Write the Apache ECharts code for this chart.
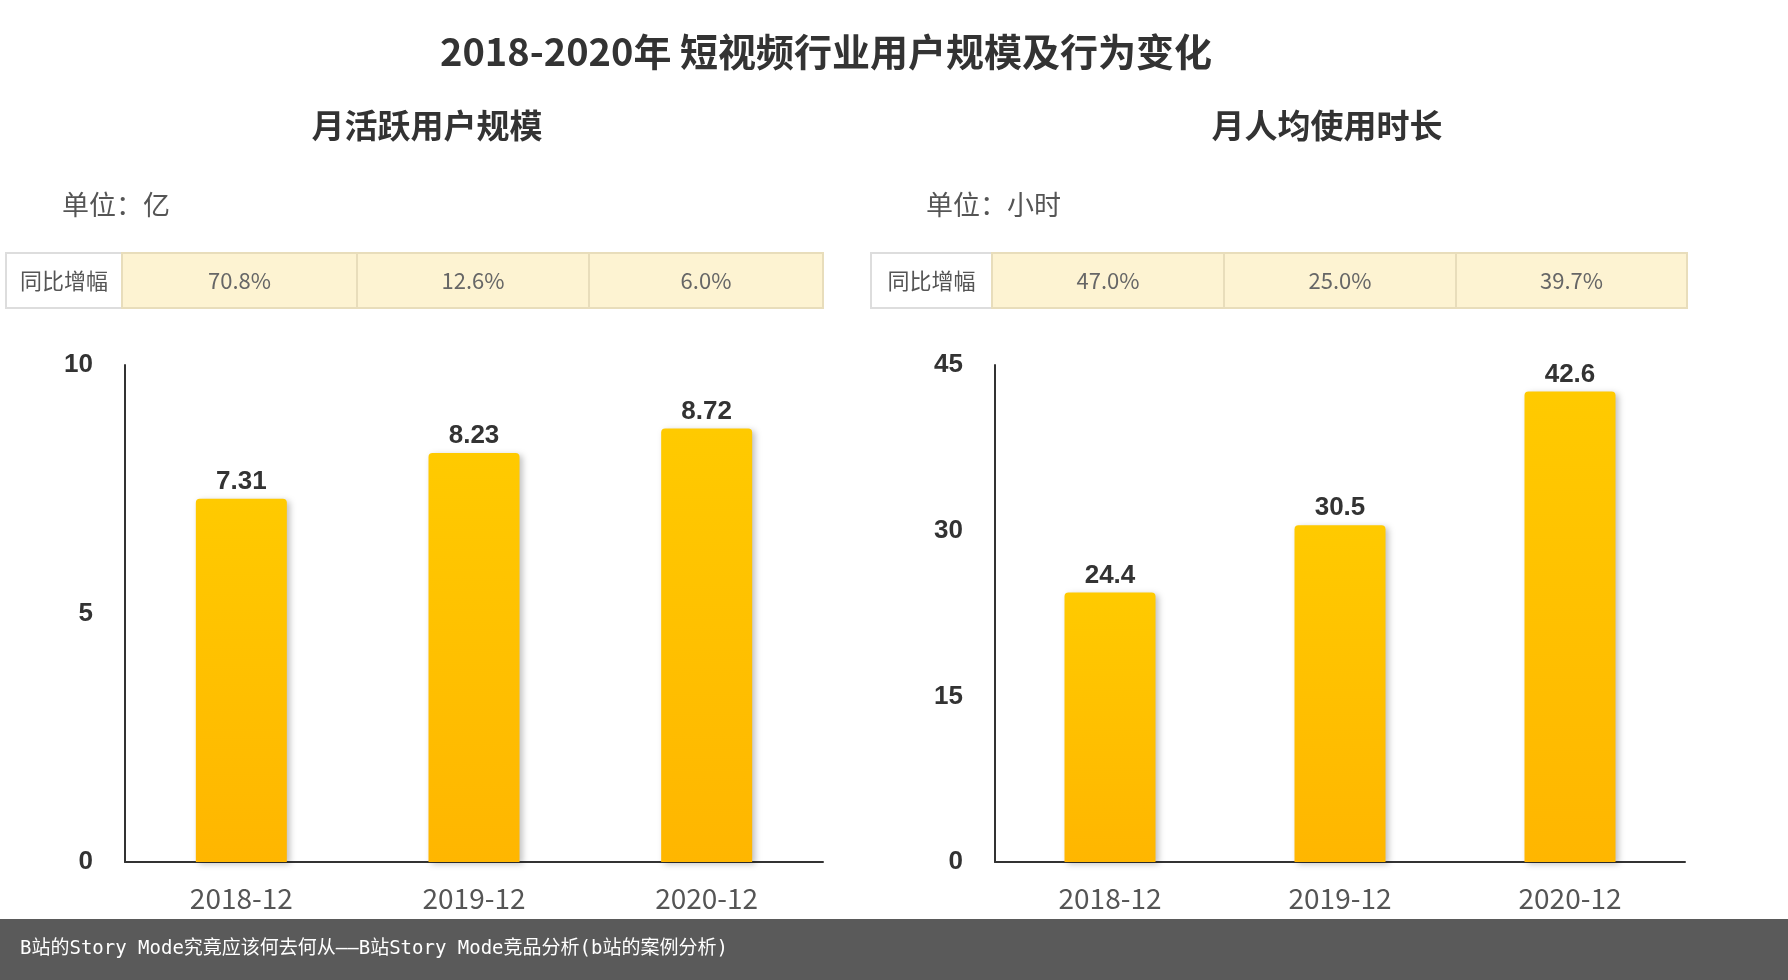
<!DOCTYPE html>
<html><head><meta charset="utf-8">
<script src="https://cdn.jsdelivr.net/npm/echarts@6/dist/echarts.min.js"></script>
<style>html,body{margin:0;padding:0;background:#fff}#c{width:1788px;height:980px}</style>
</head><body><div id="c"></div>
<script>
const categories = ['2018-12','2019-12','2020-12'];
const mauValues = [7.31, 8.23, 8.72];
const timeValues = [24.4, 30.5, 42.6];
const mauGrowth = ['70.8%','12.6%','6.0%'];
const timeGrowth = ['47.0%','25.0%','39.7%'];
const chart = echarts.init(document.getElementById('c'));
const F = '"Noto Sans CJK SC","Noto Sans",sans-serif';
const barColor = new echarts.graphic.LinearGradient(0,0,0,1,[{offset:0,color:'#FFCA00'},{offset:1,color:'#FFB600'}]);
function table(x0, edges, growth) {
  const els = [];
  els.push({type:'rect',shape:{x:x0,y:253,width:edges[0]-x0,height:55},style:{fill:'#fff',stroke:'#ddd',lineWidth:2}});
  els.push({type:'text',style:{x:(x0+edges[0])/2,y:281,text:'同比增幅',font:'22px '+F,fill:'#555',align:'center',verticalAlign:'middle'}});
  for (let i=0;i<3;i++){
    els.push({type:'rect',shape:{x:edges[i],y:253,width:edges[i+1]-edges[i],height:55},style:{fill:'#FDF3D2',stroke:'#E8DDBB',lineWidth:2}});
    els.push({type:'text',style:{x:(edges[i]+edges[i+1])/2,y:281,text:growth[i],font:'22px '+F,fill:'#666',align:'center',verticalAlign:'middle'}});
  }
  return els;
}
const axisCommon = {axisLine:{show:true,lineStyle:{color:'#333',width:2}},axisTick:{show:false},splitLine:{show:false}};
function series(idx, data){
  return {type:'bar',xAxisIndex:idx,yAxisIndex:idx,data:data,barWidth:91,
    itemStyle:{color:barColor,borderRadius:[4,4,0,0],shadowColor:'rgba(0,0,0,0.25)',shadowBlur:6,shadowOffsetX:3,shadowOffsetY:2},
    label:{show:true,position:'top',distance:4,fontSize:26,fontWeight:'bold',color:'#333',fontFamily:'"Liberation Sans",Arial,sans-serif'}};
}
const yLab = {fontSize:26,color:'#333',margin:32,fontWeight:'bold',fontFamily:'"Liberation Sans",Arial,sans-serif'};
chart.setOption({
  animation:false,
  title:[
    {text:'2018-2020年 短视频行业用户规模及行为变化',left:821,top:28,textAlign:'center',textStyle:{fontSize:38,fontWeight:'bold',color:'#333',fontFamily:F}},
    {text:'月活跃用户规模',left:422,top:104,textAlign:'center',textStyle:{fontSize:33,fontWeight:'bold',color:'#333',fontFamily:F}},
    {text:'月人均使用时长',left:1322,top:104,textAlign:'center',textStyle:{fontSize:33,fontWeight:'bold',color:'#333',fontFamily:F}},
    {text:'单位：亿',left:57,top:186,textStyle:{fontSize:27,fontWeight:'normal',color:'#555',fontFamily:F}},
    {text:'单位：小时',left:921,top:186,textStyle:{fontSize:27,fontWeight:'normal',color:'#555',fontFamily:F}}
  ],
  grid:[{left:125,right:965,top:365,height:497},{left:995,right:103,top:365,height:497}],
  xAxis:[0,1].map(i=>Object.assign({type:'category',gridIndex:i,data:categories,axisLabel:{fontSize:28,color:'#555',margin:22,fontFamily:F}},axisCommon)),
  yAxis:[
    Object.assign({type:'value',gridIndex:0,min:0,max:10,interval:5,axisLabel:yLab},axisCommon),
    Object.assign({type:'value',gridIndex:1,min:0,max:45,interval:15,axisLabel:yLab},axisCommon)
  ],
  series:[series(0,mauValues),series(1,timeValues)],
  graphic:[
    ...table(6,[122,357,589,823],mauGrowth),
    ...table(871,[992,1224,1456,1687],timeGrowth),
    {type:'rect',shape:{x:0,y:919,width:1788,height:61},style:{fill:'#5a5a5a'}},
    {type:'text',style:{x:20,y:949,text:'B站的Story Mode究竟应该何去何从——B站Story Mode竞品分析(b站的案例分析)',font:'19px "DejaVu Sans Mono","Noto Sans CJK SC",monospace',fill:'#fff',verticalAlign:'middle'}}
  ]
});
</script></body></html>
